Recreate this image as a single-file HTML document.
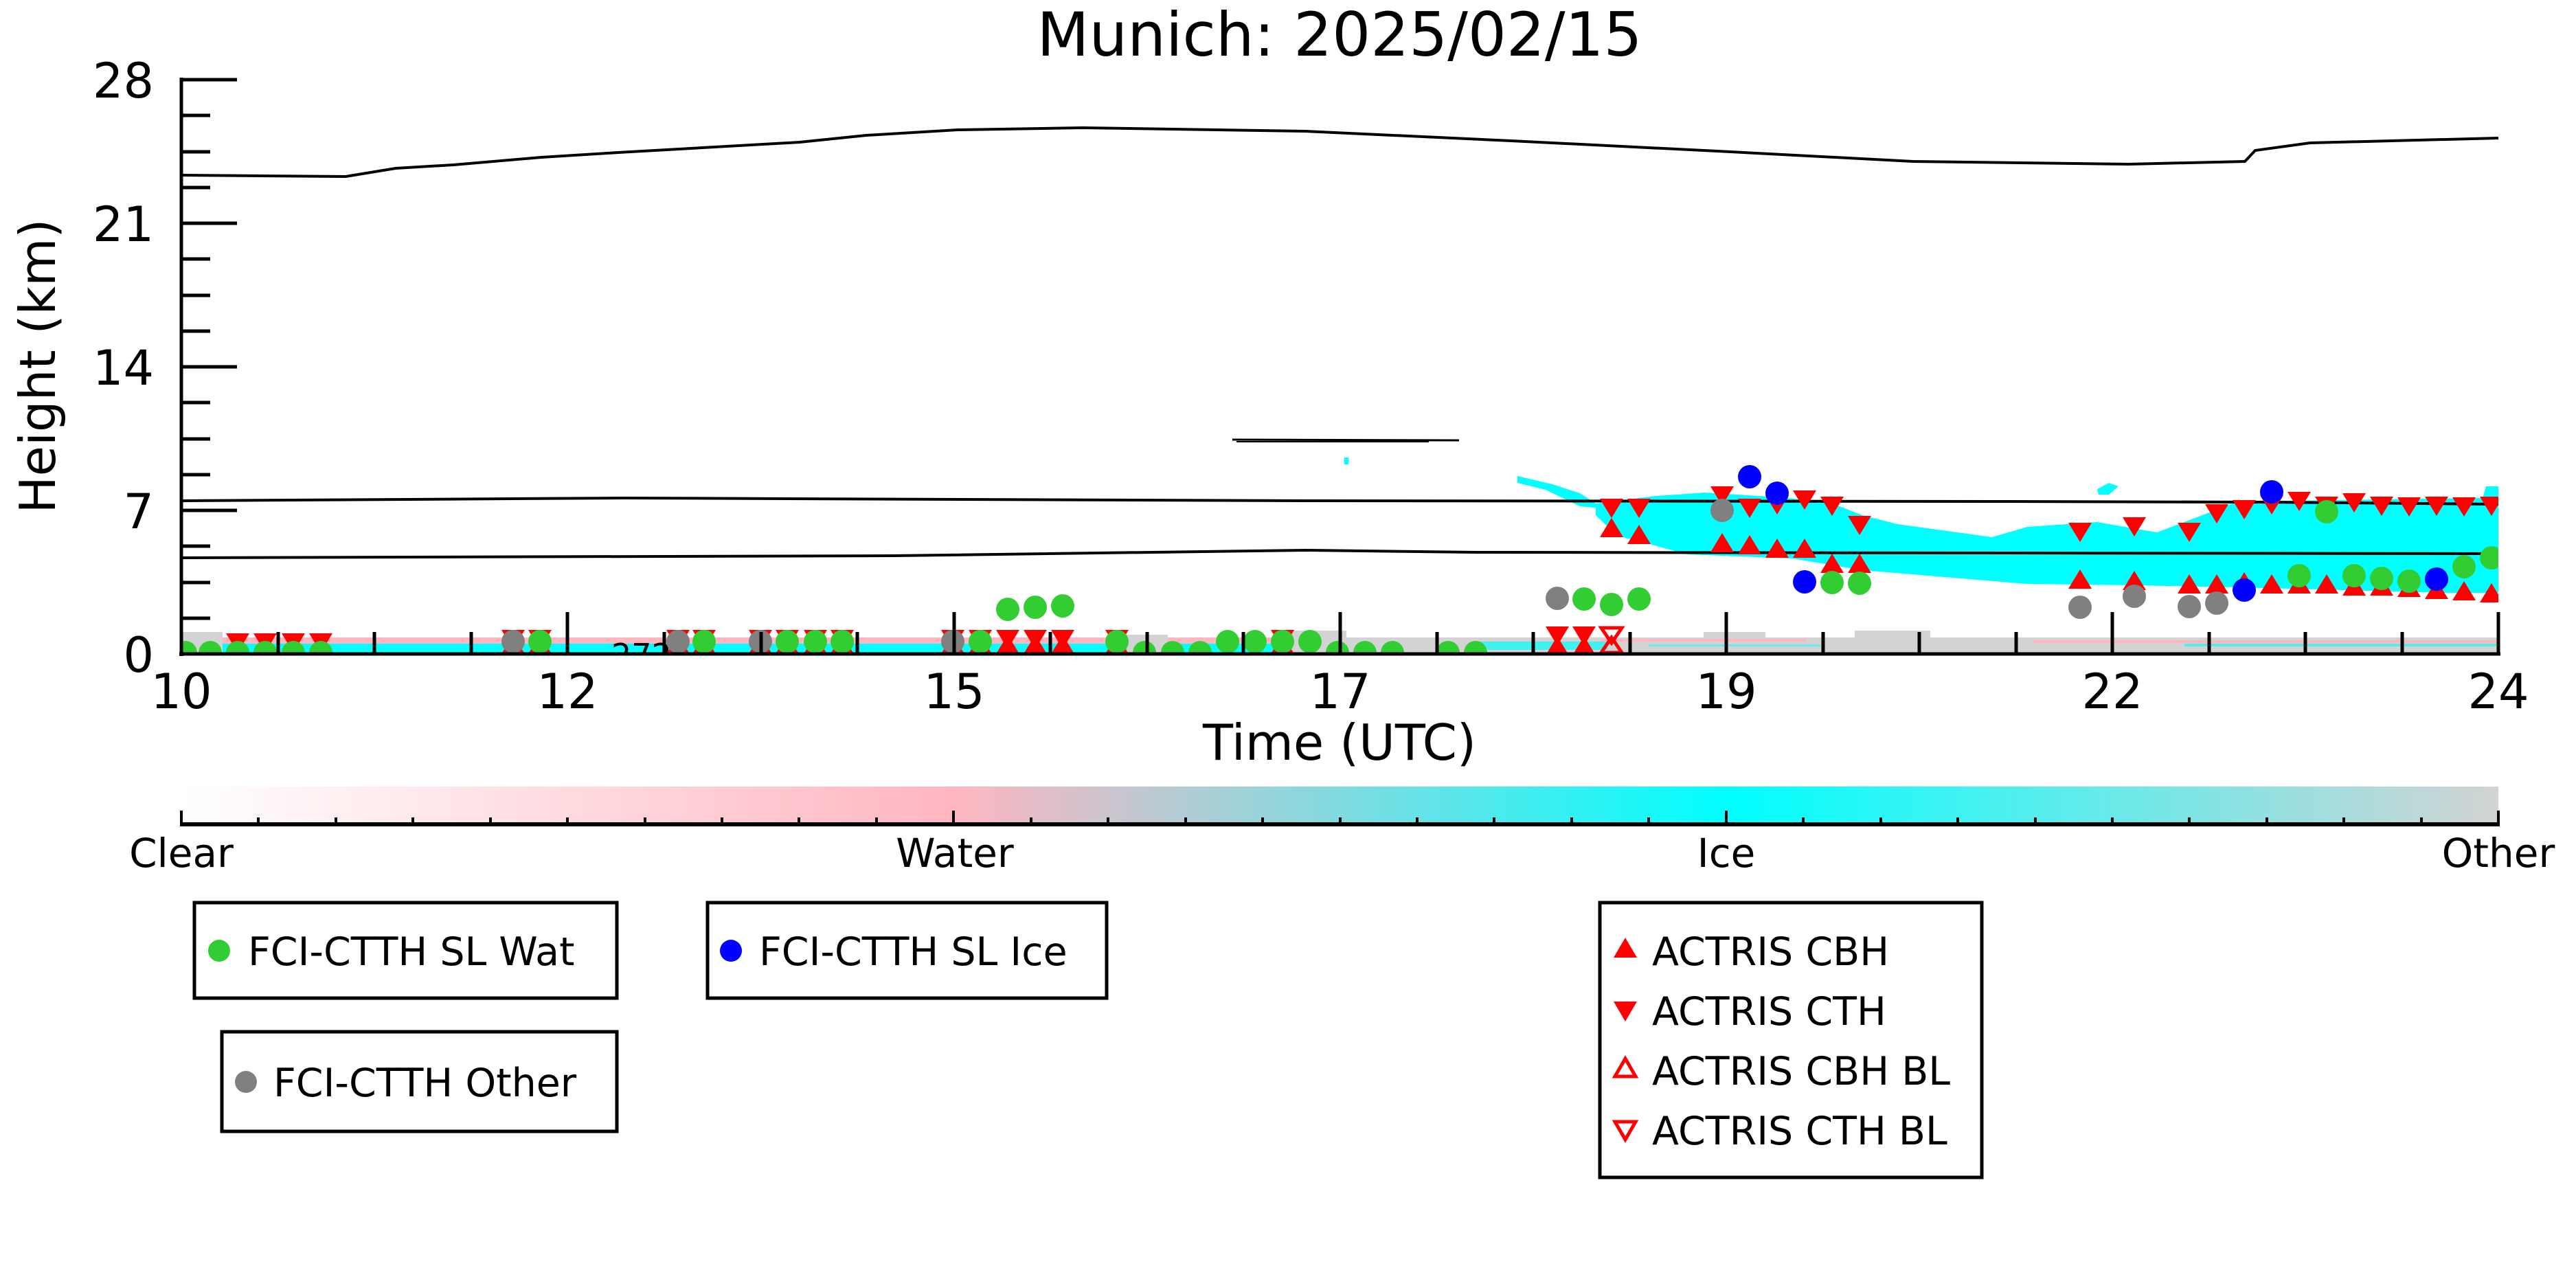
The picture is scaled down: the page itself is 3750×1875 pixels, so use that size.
<!DOCTYPE html>
<html><head><meta charset="utf-8"><style>html,body{margin:0;padding:0;background:#fff}svg{display:block}</style></head><body>
<svg width="3750" height="1875" viewBox="0 0 3750 1875" xmlns="http://www.w3.org/2000/svg" font-family="'DejaVu Sans','Liberation Sans',sans-serif">
<defs>
<linearGradient id="cb" x1="0" x2="1" y1="0" y2="0">
<stop offset="0" stop-color="#ffffff"/><stop offset="0.333" stop-color="#ffb6c1"/><stop offset="0.667" stop-color="#00ffff"/><stop offset="1" stop-color="#d3d3d3"/>
</linearGradient>
<clipPath id="pc"><rect x="264" y="100" width="3373" height="850"/></clipPath>
<path id="dn" d="M-17,-14 L17,-14 L0,14 Z" fill="#ff0000"/>
<path id="up" d="M0,-14 L17,14 L-17,14 Z" fill="#ff0000"/>
</defs>
<rect width="3750" height="1875" fill="#fff"/>
<text x="1950" y="81" font-size="88" text-anchor="middle">Munich: 2025/02/15</text>

<g clip-path="url(#pc)">
<!-- ground band -->
<rect x="264" y="928" width="1590" height="10" fill="#ffb6c1"/>
<rect x="264" y="937" width="1590" height="14" fill="#00ffff"/>
<rect x="264" y="920" width="60" height="31" fill="#d3d3d3"/>
<rect x="1640" y="924" width="60" height="27" fill="#d3d3d3"/>
<rect x="1854" y="928" width="1783" height="23" fill="#d3d3d3"/>
<rect x="1870" y="918" width="90" height="12" fill="#d3d3d3"/>
<rect x="2480" y="920" width="90" height="10" fill="#d3d3d3"/>
<rect x="2700" y="918" width="110" height="12" fill="#d3d3d3"/>
<rect x="2150" y="934" width="190" height="12" fill="#00ffff" opacity="0.7"/>
<rect x="2330" y="930" width="300" height="4" fill="#ffb6c1"/>
<rect x="2960" y="932" width="677" height="4" fill="#ffb6c1"/>
<rect x="3180" y="937" width="457" height="4" fill="#00ffff" opacity="0.6"/>
<rect x="2400" y="938" width="250" height="3" fill="#00ffff" opacity="0.5"/>

<!-- cyan cloud -->
<polygon fill="#00ffff" points="2209,693 2260,705 2300,718 2323,733 2330,740 2300,737 2250,713 2209,703"/>
<polygon fill="#00ffff" points="2323,733 2410,722 2441,720 2482,717 2560,722 2660,730 2711,750 2762,763 2900,782 2951,767 3053,760 3140,775 3206,750 3257,730 3614,725 3619,708 3637,708 3637,863 3563,863 3257,855 3104,852 2950,850 2711,830 2609,813 2456,807 2405,793 2354,780 2323,750"/>
<polygon fill="#00ffff" points="3053,712 3070,703 3084,708 3070,720 3055,720"/>
<rect x="1957" y="666" width="6" height="10" fill="#00ffff"/>

<!-- black lines -->
<polyline fill="none" stroke="#000" stroke-width="4" points="264,255 503,257 576,245 660,240 788,229 900,222 1164,207 1261,197 1394,189 1576,186 1900,191 2200,205 2500,220 2785,235 3099,239 3268,235 3283,219 3363,208 3637,201"/>
<polyline fill="none" stroke="#000" stroke-width="4" points="264,729 909,725 1900,729 2900,730 3300,731 3637,734"/>
<polyline fill="none" stroke="#000" stroke-width="4" points="264,812 1300,809 1900,801 2150,804 3637,806"/>
<line x1="1794" y1="640" x2="2124" y2="641" stroke="#000" stroke-width="3"/>
<line x1="1800" y1="643" x2="2080" y2="643" stroke="#000" stroke-width="2"/>

<text x="890" y="970" font-size="46">272</text>

<!-- ground red markers -->
<g>
<use href="#dn" x="346" y="936"/><use href="#dn" x="386" y="936"/><use href="#dn" x="427" y="936"/><use href="#dn" x="467" y="936"/>
<use href="#dn" x="747" y="931"/><use href="#up" x="747" y="938"/>
<use href="#dn" x="786" y="931"/><use href="#up" x="786" y="938"/>
<use href="#dn" x="987" y="931"/><use href="#up" x="987" y="938"/>
<use href="#dn" x="1025" y="931"/><use href="#up" x="1025" y="938"/>
<use href="#dn" x="1107" y="931"/><use href="#up" x="1107" y="938"/>
<use href="#dn" x="1146" y="931"/><use href="#up" x="1146" y="938"/>
<use href="#dn" x="1187" y="931"/><use href="#up" x="1187" y="938"/>
<use href="#dn" x="1226" y="931"/><use href="#up" x="1226" y="938"/>
<use href="#dn" x="1387" y="931"/><use href="#up" x="1387" y="938"/>
<use href="#dn" x="1427" y="931"/><use href="#up" x="1427" y="938"/>
<use href="#dn" x="1467" y="931"/><use href="#up" x="1467" y="938"/>
<use href="#dn" x="1507" y="931"/><use href="#up" x="1507" y="938"/>
<use href="#dn" x="1547" y="931"/><use href="#up" x="1547" y="938"/>
<use href="#dn" x="1626" y="931"/><use href="#up" x="1626" y="938"/>
<use href="#dn" x="1867" y="931"/><use href="#up" x="1867" y="938"/>
<use href="#dn" x="2267" y="926"/><use href="#up" x="2267" y="940"/>
<use href="#dn" x="2306" y="926"/><use href="#up" x="2306" y="940"/>
<path d="M2331,914 L2361,914 L2346,936 Z M2346,928 L2361,950 L2331,950 Z" fill="none" stroke="#ff0000" stroke-width="5"/>
</g>
<!-- ground circles -->
<g fill="#32cd32">
<circle cx="270" cy="950" r="17"/><circle cx="306" cy="950" r="17"/><circle cx="346" cy="950" r="17"/><circle cx="386" cy="950" r="17"/><circle cx="427" cy="950" r="17"/><circle cx="467" cy="950" r="17"/>
<circle cx="1666" cy="950" r="17"/><circle cx="1707" cy="950" r="17"/><circle cx="1747" cy="950" r="17"/><circle cx="1947" cy="950" r="17"/><circle cx="1987" cy="950" r="17"/><circle cx="2027" cy="950" r="17"/><circle cx="2108" cy="950" r="17"/><circle cx="2148" cy="950" r="17"/>
<circle cx="786" cy="934" r="17"/><circle cx="1025" cy="934" r="17"/><circle cx="1146" cy="934" r="17"/><circle cx="1187" cy="934" r="17"/><circle cx="1226" cy="934" r="17"/><circle cx="1427" cy="934" r="17"/><circle cx="1626" cy="934" r="17"/><circle cx="1787" cy="934" r="17"/><circle cx="1827" cy="934" r="17"/><circle cx="1867" cy="934" r="17"/><circle cx="1907" cy="934" r="17"/>
<circle cx="1467" cy="887" r="17"/><circle cx="1507" cy="884" r="17"/><circle cx="1547" cy="882" r="17"/>
</g>
<g fill="#808080">
<circle cx="747" cy="934" r="17"/><circle cx="987" cy="934" r="17"/><circle cx="1107" cy="934" r="17"/><circle cx="1387" cy="934" r="17"/>
</g>

<!-- sky markers -->
<g>
<use href="#dn" x="2346" y="740"/><use href="#dn" x="2386" y="740"/><use href="#dn" x="2507" y="722"/><use href="#dn" x="2547" y="740"/><use href="#dn" x="2587" y="735"/><use href="#dn" x="2627" y="728"/><use href="#dn" x="2667" y="737"/><use href="#dn" x="2707" y="765"/>
<use href="#dn" x="3028" y="775"/><use href="#dn" x="3107" y="767"/><use href="#dn" x="3187" y="775"/><use href="#dn" x="3227" y="748"/><use href="#dn" x="3267" y="742"/><use href="#dn" x="3307" y="735"/><use href="#dn" x="3347" y="730"/><use href="#dn" x="3387" y="737"/><use href="#dn" x="3427" y="732"/><use href="#dn" x="3467" y="737"/><use href="#dn" x="3507" y="738"/><use href="#dn" x="3547" y="737"/><use href="#dn" x="3587" y="738"/><use href="#dn" x="3627" y="737"/>
<use href="#up" x="2346" y="768"/><use href="#up" x="2386" y="778"/><use href="#up" x="2507" y="790"/><use href="#up" x="2547" y="793"/><use href="#up" x="2587" y="798"/><use href="#up" x="2627" y="798"/><use href="#up" x="2667" y="820"/><use href="#up" x="2707" y="820"/>
<use href="#up" x="3028" y="843"/><use href="#up" x="3107" y="845"/><use href="#up" x="3187" y="850"/><use href="#up" x="3227" y="850"/><use href="#up" x="3267" y="847"/><use href="#up" x="3307" y="850"/><use href="#up" x="3347" y="850"/><use href="#up" x="3387" y="850"/><use href="#up" x="3427" y="853"/><use href="#up" x="3467" y="853"/><use href="#up" x="3507" y="855"/><use href="#up" x="3547" y="858"/><use href="#up" x="3587" y="860"/><use href="#up" x="3627" y="863"/>
</g>
<g fill="#808080"><circle cx="2507" cy="743" r="17"/><circle cx="2267" cy="871" r="17"/><circle cx="3028" cy="884" r="17"/><circle cx="3107" cy="868" r="17"/><circle cx="3187" cy="883" r="17"/><circle cx="3227" cy="878" r="17"/></g>
<g fill="#0000ff"><circle cx="2547" cy="694" r="17"/><circle cx="2587" cy="718" r="17"/><circle cx="2627" cy="847" r="17"/><circle cx="3267" cy="859" r="17"/><circle cx="3307" cy="716" r="17"/><circle cx="3547" cy="843" r="17"/></g>
<g fill="#32cd32"><circle cx="2667" cy="848" r="17"/><circle cx="2707" cy="849" r="17"/><circle cx="2306" cy="872" r="17"/><circle cx="2346" cy="880" r="17"/><circle cx="2386" cy="872" r="17"/><circle cx="3347" cy="838" r="17"/><circle cx="3387" cy="745" r="17"/><circle cx="3427" cy="838" r="17"/><circle cx="3467" cy="842" r="17"/><circle cx="3507" cy="846" r="17"/><circle cx="3587" cy="825" r="17"/><circle cx="3627" cy="812" r="17"/></g>
</g>

<!-- axes -->
<g stroke="#000" stroke-width="5">
<line x1="264" y1="113" x2="264" y2="955"/>
<line x1="261" y1="952" x2="3640" y2="952"/>
<!-- y ticks -->
<line x1="264" y1="116" x2="345" y2="116"/><line x1="264" y1="325" x2="345" y2="325"/><line x1="264" y1="534" x2="345" y2="534"/><line x1="264" y1="743" x2="345" y2="743"/>
<line x1="264" y1="168" x2="306" y2="168"/><line x1="264" y1="221" x2="306" y2="221"/><line x1="264" y1="273" x2="306" y2="273"/>
<line x1="264" y1="377" x2="306" y2="377"/><line x1="264" y1="430" x2="306" y2="430"/><line x1="264" y1="482" x2="306" y2="482"/>
<line x1="264" y1="586" x2="306" y2="586"/><line x1="264" y1="639" x2="306" y2="639"/><line x1="264" y1="691" x2="306" y2="691"/>
<line x1="264" y1="795" x2="306" y2="795"/><line x1="264" y1="848" x2="306" y2="848"/><line x1="264" y1="900" x2="306" y2="900"/>
<!-- x ticks -->
<line x1="826" y1="891" x2="826" y2="952"/><line x1="1389" y1="891" x2="1389" y2="952"/><line x1="1951" y1="891" x2="1951" y2="952"/><line x1="2513" y1="891" x2="2513" y2="952"/><line x1="3075" y1="891" x2="3075" y2="952"/><line x1="3637" y1="891" x2="3637" y2="952"/>
<line x1="405" y1="920" x2="405" y2="952"/><line x1="545" y1="920" x2="545" y2="952"/><line x1="686" y1="920" x2="686" y2="952"/>
<line x1="967" y1="920" x2="967" y2="952"/><line x1="1108" y1="920" x2="1108" y2="952"/><line x1="1248" y1="920" x2="1248" y2="952"/>
<line x1="1529" y1="920" x2="1529" y2="952"/><line x1="1670" y1="920" x2="1670" y2="952"/><line x1="1810" y1="920" x2="1810" y2="952"/>
<line x1="2092" y1="920" x2="2092" y2="952"/><line x1="2232" y1="920" x2="2232" y2="952"/><line x1="2373" y1="920" x2="2373" y2="952"/>
<line x1="2654" y1="920" x2="2654" y2="952"/><line x1="2794" y1="920" x2="2794" y2="952"/><line x1="2935" y1="920" x2="2935" y2="952"/>
<line x1="3216" y1="920" x2="3216" y2="952"/><line x1="3356" y1="920" x2="3356" y2="952"/><line x1="3497" y1="920" x2="3497" y2="952"/>
</g>
<g font-size="70" text-anchor="end">
<text x="224" y="142">28</text><text x="224" y="351">21</text><text x="224" y="560">14</text><text x="224" y="769">7</text><text x="224" y="978">0</text>
</g>
<g font-size="70" text-anchor="middle">
<text x="264" y="1031">10</text><text x="826" y="1031">12</text><text x="1389" y="1031">15</text><text x="1951" y="1031">17</text><text x="2513" y="1031">19</text><text x="3075" y="1031">22</text><text x="3637" y="1031">24</text>
</g>
<text x="1950" y="1106" font-size="72" text-anchor="middle">Time (UTC)</text>
<text transform="translate(80,533) rotate(-90)" font-size="72" text-anchor="middle">Height (km)</text>

<!-- colorbar -->
<rect x="264" y="1145" width="3373" height="53" fill="url(#cb)"/>
<g stroke="#000" stroke-width="4">
<line x1="262" y1="1200" x2="3639" y2="1200" stroke-width="6"/>
<line x1="264" y1="1180" x2="264" y2="1200"/><line x1="1388" y1="1180" x2="1388" y2="1200"/><line x1="2513" y1="1180" x2="2513" y2="1200"/><line x1="3637" y1="1180" x2="3637" y2="1200"/>
<line x1="376" y1="1190" x2="376" y2="1200"/><line x1="489" y1="1190" x2="489" y2="1200"/><line x1="601" y1="1190" x2="601" y2="1200"/><line x1="714" y1="1190" x2="714" y2="1200"/><line x1="826" y1="1190" x2="826" y2="1200"/><line x1="939" y1="1190" x2="939" y2="1200"/><line x1="1051" y1="1190" x2="1051" y2="1200"/><line x1="1163" y1="1190" x2="1163" y2="1200"/><line x1="1276" y1="1190" x2="1276" y2="1200"/>
<line x1="1501" y1="1190" x2="1501" y2="1200"/><line x1="1613" y1="1190" x2="1613" y2="1200"/><line x1="1726" y1="1190" x2="1726" y2="1200"/><line x1="1838" y1="1190" x2="1838" y2="1200"/><line x1="1951" y1="1190" x2="1951" y2="1200"/><line x1="2063" y1="1190" x2="2063" y2="1200"/><line x1="2175" y1="1190" x2="2175" y2="1200"/><line x1="2288" y1="1190" x2="2288" y2="1200"/><line x1="2400" y1="1190" x2="2400" y2="1200"/>
<line x1="2625" y1="1190" x2="2625" y2="1200"/><line x1="2738" y1="1190" x2="2738" y2="1200"/><line x1="2850" y1="1190" x2="2850" y2="1200"/><line x1="2963" y1="1190" x2="2963" y2="1200"/><line x1="3075" y1="1190" x2="3075" y2="1200"/><line x1="3187" y1="1190" x2="3187" y2="1200"/><line x1="3300" y1="1190" x2="3300" y2="1200"/><line x1="3412" y1="1190" x2="3412" y2="1200"/><line x1="3525" y1="1190" x2="3525" y2="1200"/>
</g>
<g font-size="58" text-anchor="middle">
<text x="264" y="1262">Clear</text><text x="1390" y="1262">Water</text><text x="2513" y="1262">Ice</text><text x="3637" y="1262">Other</text>
</g>

<!-- legends -->
<g fill="#fff" stroke="#000" stroke-width="5">
<rect x="283" y="1314" width="615" height="139"/>
<rect x="1030" y="1314" width="581" height="139"/>
<rect x="323" y="1502" width="575" height="145"/>
<rect x="2329" y="1314" width="556" height="400"/>
</g>
<g font-size="57">
<circle cx="319" cy="1384" r="16" fill="#32cd32"/><text x="361" y="1405">FCI-CTTH SL Wat</text>
<circle cx="1064" cy="1384" r="16" fill="#0000ff"/><text x="1105" y="1405">FCI-CTTH SL Ice</text>
<circle cx="358" cy="1575" r="16" fill="#808080"/><text x="398" y="1596">FCI-CTTH Other</text>
<path d="M2366,1365 L2383,1394 L2349,1394 Z" fill="#ff0000"/><text x="2405" y="1405">ACTRIS CBH</text>
<path d="M2349,1458 L2383,1458 L2366,1487 Z" fill="#ff0000"/><text x="2405" y="1492">ACTRIS CTH</text>
<path d="M2366,1541 L2381,1567 L2351,1567 Z" fill="none" stroke="#ff0000" stroke-width="5"/><text x="2405" y="1579">ACTRIS CBH BL</text>
<path d="M2351,1633 L2381,1633 L2366,1659 Z" fill="none" stroke="#ff0000" stroke-width="5"/><text x="2405" y="1666">ACTRIS CTH BL</text>
</g>
</svg>
</body></html>
